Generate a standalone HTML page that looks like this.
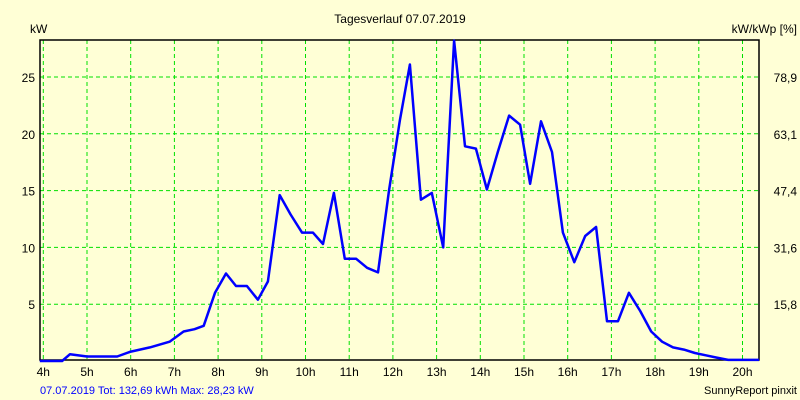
<!DOCTYPE html>
<html><head><meta charset="utf-8"><style>
body{margin:0;background:#ffffd6;}
svg{display:block;font-family:"Liberation Sans",sans-serif;font-size:12px;}
</style></head><body>
<svg id="chart" width="800" height="400" viewBox="0 0 800 400">
<rect x="0" y="0" width="800" height="400" fill="#ffffd6"/>
<text x="400" y="23" text-anchor="middle" fill="#000">Tagesverlauf 07.07.2019</text>
<text x="30" y="33" fill="#000">kW</text>
<text x="797" y="33" text-anchor="end" fill="#000">kW/kWp [%]</text>
<g id="grid"></g>
<g id="ticks"></g>
<rect x="40" y="40" width="719" height="320" fill="none" stroke="#000" stroke-width="1.5"/>
<g id="series"></g>
<text x="40" y="394" fill="#0000ff" font-size="11">07.07.2019 Tot: 132,69 kWh Max: 28,23 kW</text>
<text x="797" y="394" text-anchor="end" fill="#000" font-size="11">SunnyReport pinxit</text>
</svg>
<script>
const hours=[4,5,6,7,8,9,10,11,12,13,14,15,16,17,18,19,20];
const kwTicks=[5,10,15,20,25];
const pctTicks=["15,8","31,6","47,4","63,1","78,9"];
const times=[3.92,4.43,4.61,5.0,5.69,5.98,6.44,6.89,7.21,7.46,7.67,7.93,8.18,8.41,8.66,8.91,9.14,9.41,9.66,9.92,10.17,10.40,10.65,10.90,11.16,11.41,11.66,11.91,12.16,12.39,12.64,12.89,13.15,13.40,13.65,13.90,14.15,14.40,14.66,14.91,15.14,15.39,15.64,15.89,16.15,16.40,16.65,16.90,17.15,17.40,17.66,17.91,18.16,18.41,18.66,18.91,19.16,19.41,19.67,19.92,20.38];
const power=[0,0,0.6,0.4,0.4,0.8,1.2,1.7,2.6,2.8,3.1,6.0,7.7,6.6,6.6,5.4,7.0,14.6,12.9,11.3,11.3,10.3,14.8,9.0,9.0,8.2,7.8,15.0,21.2,26.1,14.2,14.8,10.0,28.2,18.9,18.7,15.1,18.4,21.6,20.8,15.6,21.1,18.4,11.3,8.7,11.0,11.8,3.5,3.5,6.0,4.4,2.6,1.7,1.2,1.0,0.7,0.5,0.3,0.1,0.1,0.1];
const X=t=>43.3+(t-4)*43.7;
const Y=v=>361-v*11.36;
const NS="http://www.w3.org/2000/svg";
const grid=document.getElementById('grid'),ticks=document.getElementById('ticks'),series=document.getElementById('series');
function mk(tag,attrs,parent){const e=document.createElementNS(NS,tag);for(const k in attrs)e.setAttribute(k,attrs[k]);parent.appendChild(e);return e;}
hours.forEach(h=>{
  const l=mk('line',{x1:X(h),x2:X(h),y1:40,y2:360,stroke:'#00e000','stroke-dasharray':'4,3'},grid);
  
  
  const t=mk('text',{x:X(h),y:376,'text-anchor':'middle',fill:'#000'},ticks);
  t.textContent=h+'h';
  
  
});
kwTicks.forEach((v,i)=>{
  const l=mk('line',{x1:40,x2:759,y1:Y(v),y2:Y(v),stroke:'#00e000','stroke-dasharray':'4,3'},grid);
  
  
  const t=mk('text',{x:35,y:Y(v)+5,'text-anchor':'end',fill:'#000'},ticks);
  t.textContent=v;
  
  
  const r=mk('text',{x:797,y:Y(v)+5,'text-anchor':'end',fill:'#000'},ticks);
  r.textContent=pctTicks[i];
  
  
});
const p=mk('polyline',{points:times.map((t,i)=>X(t).toFixed(1)+','+Y(power[i]).toFixed(1)).join(' '),fill:'none',stroke:'#0000ff','stroke-width':2.5,'stroke-linejoin':'round'},series);


</script>
</body></html>
